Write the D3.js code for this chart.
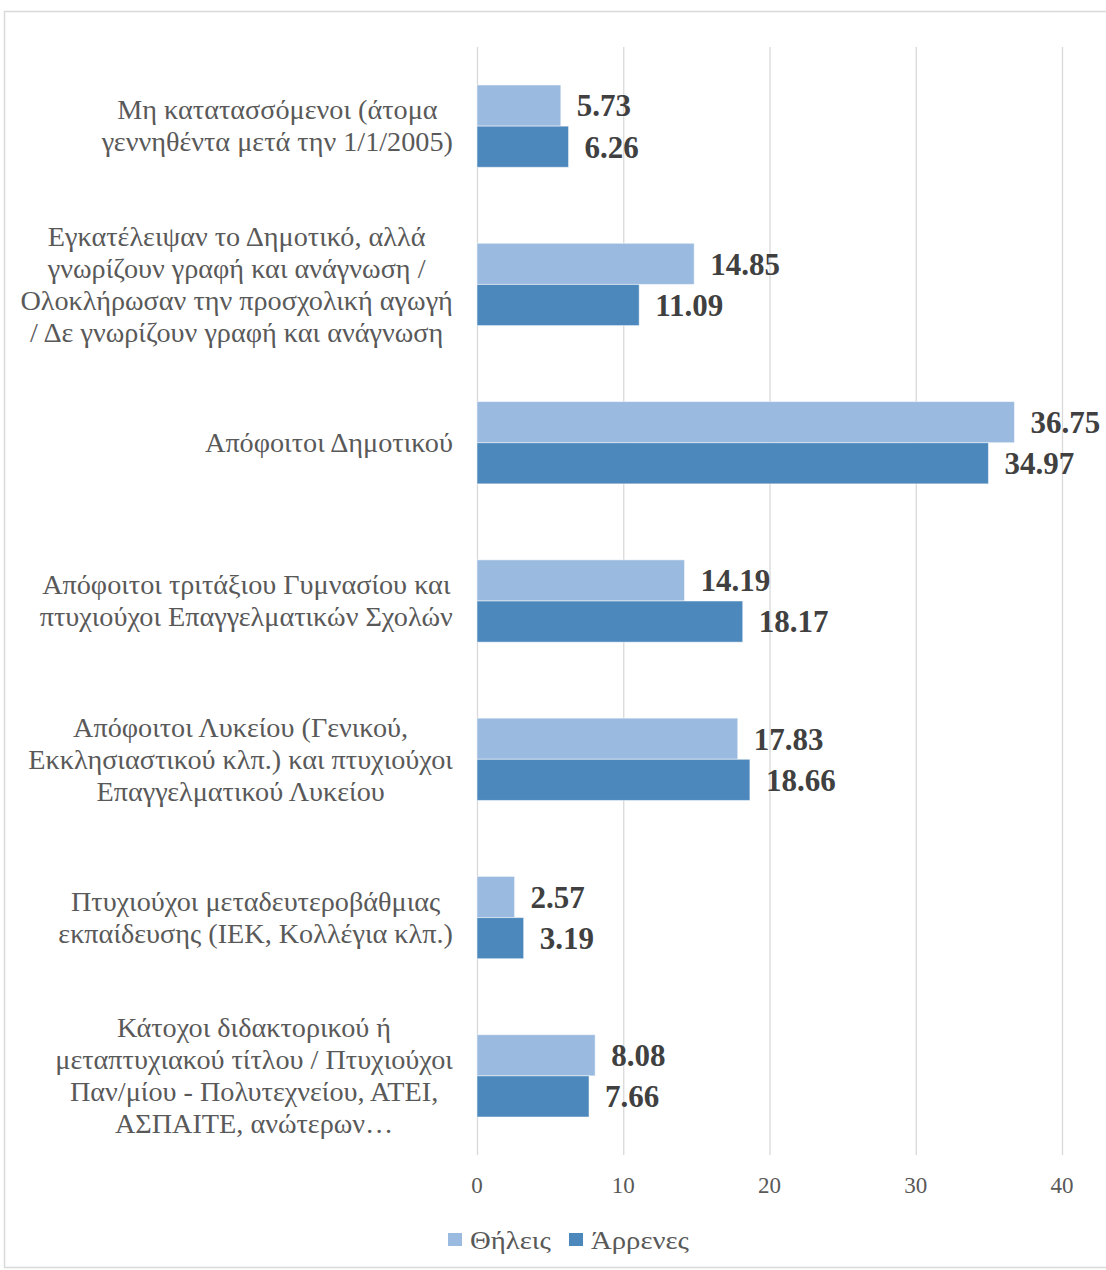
<!DOCTYPE html>
<html>
<head>
<meta charset="utf-8">
<script src="https://cdn.jsdelivr.net/npm/d3@7"></script>
<style>
  body { margin: 0; background: #fff; }
  svg text { font-family: "Liberation Serif", "Times New Roman", serif; }
</style>
</head>
<body>
<script>
'use strict';

// categories, each split into the lines shown on the chart
const categories = [
  ["Μη κατατασσόμενοι (άτομα", "γεννηθέντα μετά την 1/1/2005)"],
  ["Εγκατέλειψαν το Δημοτικό, αλλά", "γνωρίζουν γραφή και ανάγνωση /", "Ολοκλήρωσαν την προσχολική αγωγή", "/ Δε γνωρίζουν γραφή και ανάγνωση"],
  ["Απόφοιτοι Δημοτικού"],
  ["Απόφοιτοι τριτάξιου Γυμνασίου και", "πτυχιούχοι Επαγγελματικών Σχολών"],
  ["Απόφοιτοι Λυκείου (Γενικού,", "Εκκλησιαστικού κλπ.) και πτυχιούχοι", "Επαγγελματικού Λυκείου"],
  ["Πτυχιούχοι μεταδευτεροβάθμιας", "εκπαίδευσης (ΙΕΚ, Κολλέγια κλπ.)"],
  ["Κάτοχοι διδακτορικού ή", "μεταπτυχιακού τίτλου / Πτυχιούχοι", "Παν/μίου - Πολυτεχνείου, ΑΤΕΙ,", "ΑΣΠΑΙΤΕ, ανώτερων…"]
];
const female = [5.73, 14.85, 36.75, 14.19, 17.83, 2.57, 8.08];
const male = [6.26, 11.09, 34.97, 18.17, 18.66, 3.19, 7.66];
const seriesNames = ["Θήλεις", "Άρρενες"];
const seriesColors = ["#9bbadf", "#4d88bd"];
const xTicks = [0, 10, 20, 30, 40];

const width = 1106, height = 1270;
// greek glyphs in the original font run wider than Liberation's
const catStretch = 1.065;
const legStretch = 1.15;

const svg = d3.select('body').append('svg')
  .attr('width', width)
  .attr('height', height);

// outer border of chart area
svg.append('rect')
  .attr('x', 4.5).attr('y', 11.5)
  .attr('width', 1120).attr('height', 1256)
  .attr('fill', 'none')
  .attr('stroke', '#d9d9d9')
  .attr('stroke-width', 1.5);

const plot = { left: 477, right: 1062, top: 47, bottom: 1155 };

const x = d3.scaleLinear().domain([0, 40]).range([plot.left, plot.right]);
const y = d3.scaleBand().domain(d3.range(categories.length))
  .range([plot.top, plot.bottom])
  .paddingInner(0.48).paddingOuter(0.24);
const ySub = d3.scaleBand().domain([0, 1]).range([0, y.bandwidth()]);

// gridlines
svg.append('g').selectAll('line')
  .data(xTicks)
  .enter().append('line')
  .attr('x1', d => x(d) + 0.5).attr('x2', d => x(d) + 0.5)
  .attr('y1', plot.top).attr('y2', plot.bottom)
  .attr('stroke', '#d9d9d9')
  .attr('stroke-width', 1.3);

// tick labels
svg.append('g').selectAll('text')
  .data(xTicks)
  .enter().append('text')
  .attr('x', d => x(d))
  .attr('y', 1193)
  .attr('text-anchor', 'middle')
  .style('font-size', '23px')
  .attr('fill', '#595959')
  .text(d => d);

// bars
const series = [female, male];
series.forEach((vals, s) => {
  const g = svg.append('g');
  g.selectAll('rect')
    .data(vals)
    .enter().append('rect')
    .attr('x', x(0))
    .attr('y', (d, i) => y(i) + ySub(s))
    .attr('width', d => x(d) - x(0))
    .attr('height', ySub.bandwidth())
    .attr('fill', seriesColors[s])
    .attr('stroke', '#ffffff')
    .attr('stroke-opacity', 0.5)
    .attr('stroke-width', 1);

  g.selectAll('text')
    .data(vals)
    .enter().append('text')
    .attr('x', d => x(d) + 16)
    .attr('y', (d, i) => y(i) + ySub(s) + ySub.bandwidth() / 2)
    .attr('dy', '0.35em')
    .style('font-size', '31px')
    .style('font-weight', 'bold')
    .attr('fill', '#404040')
    .text(d => d.toFixed(2));
});

// category labels: lines centred on each other, block right-aligned at the axis
const lineH = 32;
const labelRight = 453;
const catG = svg.append('g');
categories.forEach((lines, i) => {
  const cy = y(i) + y.bandwidth() / 2;
  const t = catG.append('text')
    .attr('text-anchor', 'middle')
    .style('font-size', '26.5px')
    .attr('fill', '#595959');
  let maxW = 0;
  lines.forEach((ln, k) => {
    const sp = t.append('tspan')
      .attr('x', 0)
      .attr('y', cy + (k - (lines.length - 1) / 2) * lineH)
      .attr('dy', '0.35em')
      .text(ln);
    maxW = Math.max(maxW, sp.node().getComputedTextLength());
  });
  t.attr('transform', `translate(${labelRight - maxW * catStretch / 2},0) scale(${catStretch},1)`);
});

// legend
const legendX = [448, 569];
seriesNames.forEach((name, s) => {
  svg.append('rect')
    .attr('x', legendX[s]).attr('y', 1233)
    .attr('width', 14).attr('height', 13)
    .attr('fill', seriesColors[s]);
  svg.append('text')
    .attr('transform', `translate(${legendX[s] + 22},1240) scale(${legStretch},1)`)
    .attr('dy', '0.35em')
    .style('font-size', '25px')
    .attr('fill', '#595959')
    .text(name);
});
</script>
</body>
</html>
